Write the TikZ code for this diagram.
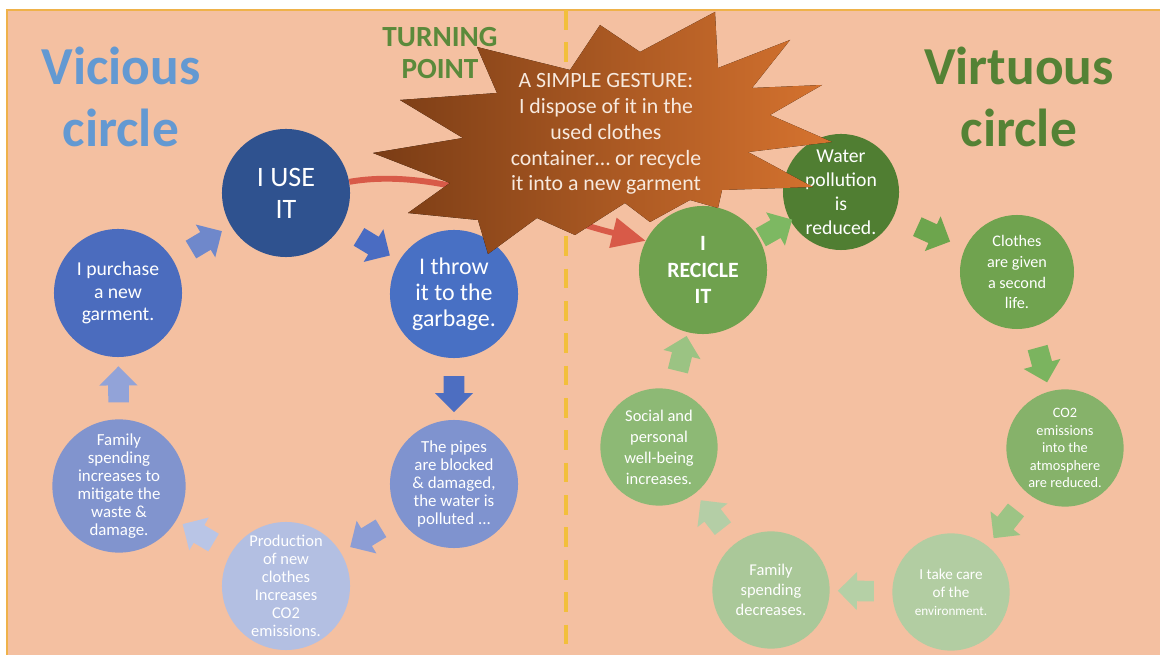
\documentclass[tikz,border=0pt]{standalone}
\usepackage{fontspec}
\setmainfont{Carlito}
\usepackage{tikz}
\usetikzlibrary{shapes}
\usetikzlibrary{shapes.arrows}
\usetikzlibrary{arrows.meta}
\usetikzlibrary{calc}
\definecolor{slide}{HTML}{F4C0A1}
\definecolor{edge}{HTML}{EFB24A}
\definecolor{divider}{HTML}{F2BF3B}
\definecolor{viceC}{HTML}{6399D2}
\definecolor{virtueC}{HTML}{548235}
\definecolor{turnC}{HTML}{5B8A3B}
\definecolor{redC}{HTML}{D85A48}
\definecolor{burstDark}{HTML}{7A3C15}
\definecolor{burstMid}{HTML}{C4642A}
\definecolor{burstLight}{HTML}{D6732F}
\definecolor{burstText}{HTML}{F7E9DE}
\definecolor{useC}{HTML}{2F528F}
\definecolor{buyC}{HTML}{4B6CBE}
\definecolor{throwC}{HTML}{4870C4}
\definecolor{pipesC}{HTML}{7F93CF}
\definecolor{prodC}{HTML}{B3BFE2}
\definecolor{famC}{HTML}{8194CE}
\definecolor{a1}{HTML}{6F88CB}
\definecolor{a2}{HTML}{4A6CC2}
\definecolor{a3}{HTML}{4D6EC1}
\definecolor{a4}{HTML}{8C9DD5}
\definecolor{a5}{HTML}{B9C5E6}
\definecolor{a6}{HTML}{92A3D8}
\definecolor{recC}{HTML}{6FA14E}
\definecolor{waterC}{HTML}{507E32}
\definecolor{clothesC}{HTML}{70A34F}
\definecolor{co2C}{HTML}{86B26A}
\definecolor{careC}{HTML}{B2CDA2}
\definecolor{famdC}{HTML}{AAC899}
\definecolor{socC}{HTML}{8DB975}
\definecolor{b1}{HTML}{7DB862}
\definecolor{b2}{HTML}{6DA54D}
\definecolor{b3}{HTML}{7BB45F}
\definecolor{b4}{HTML}{9DC485}
\definecolor{b5}{HTML}{B5D0A6}
\definecolor{b6}{HTML}{B4CEA6}
\definecolor{b7}{HTML}{9BC383}
\newcommand{\txtsize}[2]{\fontsize{#1pt}{#2pt}\selectfont}
\tikzset{
	vice node/.style={circle,text=white,align=center,inner sep=0pt,minimum size=3.2cm},
	virtue node/.style={circle,text=white,align=center,inner sep=0pt,minimum size=2.93cm},
	flow arrow/.style={single arrow,draw=none,inner xsep=0pt,inner ysep=0.25cm,minimum height=0.9cm,
		single arrow head extend=0.22cm},
	title/.style={align=center,font={\bfseries\txtsize{38}{44.7}}},
	burst text/.style={align=center,text=burstText,font={\txtsize{15.5}{18.4}}}
}

\begin{document}
\begin{tikzpicture}[x=0.025cm,y=-0.025cm,
	    turn arrow/.style={draw=redC,line width=4.2pt,-{Triangle[length=24pt,width=21pt]}}]
	\useasboundingbox (0,0) rectangle (1160,655);
	\fill[slide] (7,10) rectangle (1160,655);
	\draw[edge,line width=1.2pt] (7,655) -- (7,10) -- (1160,10);
	\draw[divider,line width=3pt,dash pattern=on 14pt off 9pt] (566,10) -- (566,655);
	\node[vice node,fill=useC,font={\txtsize{20}{22.7}}] (use) at (286,193) {I USE\\IT};
	\node[vice node,fill=buyC,font={\txtsize{14}{16}}] (buy) at (118,293) {I purchase\\a new\\garment.};
	\node[vice node,fill=throwC,font={\txtsize{17}{18.6}}] (throw) at (454,294) {I throw\\it to the\\garbage.};
	\node[vice node,fill=pipesC,font={\txtsize{12}{12.8}}] (pipes) at (454,484) {The pipes\\are blocked\\\& damaged,\\the water is\\polluted ...};
	\node[vice node,fill=prodC,font={\txtsize{11.7}{12.8}}] (prod) at (286,586) {Production\\of new\\clothes\\Increases\\CO2\\emissions.};
	\node[vice node,fill=famC,font={\txtsize{12}{12.8}}] (famup) at (119,486) {Family\\spending\\increases to\\mitigate the\\waste \&\\damage.};
	\node[vice node,fill=recC,font={\bfseries\txtsize{15.5}{19}}] (rec) at (703,270) {I\\RECICLE\\IT};
	\node[virtue node,fill=waterC,minimum size=2.9cm,font={\txtsize{14}{17}}] (water) at (841,192) {Water\\pollution\\is\\reduced.};
	\node[virtue node,fill=clothesC,minimum size=2.85cm,font={\txtsize{11.5}{14.9}}] (clothes) at (1017,272) {Clothes\\are given\\a second\\life.};
	\node[virtue node,fill=co2C,font={\txtsize{10.2}{12.4}}] (co2) at (1065,448) {CO2\\emissions\\into the\\atmosphere\\are reduced.};
	\node[virtue node,fill=careC,font={\txtsize{10.8}{12.8}}] (care) at (951,592) {I take care\\of the\\{\txtsize{9.4}{12.8}environment.}};
	\node[virtue node,fill=famdC,font={\txtsize{11.7}{14.2}}] (famdown) at (771,590) {Family\\spending\\decreases.};
	\node[virtue node,fill=socC,font={\txtsize{11.7}{14.9}}] (social) at (659,447) {Social and\\personal\\well-being\\increases.};
	\foreach \a/\b/\c in {buy/use/a1,use/throw/a2,throw/pipes/a3,pipes/prod/a4,prod/famup/a5,famup/buy/a6,
		rec/water/b1,water/clothes/b2,clothes/co2/b3,co2/care/b4,care/famdown/b5,famdown/social/b6,social/rec/b7}
		\path let \p1=($(\b)-(\a)$), \n1={atan2(\y1,\x1)} in
			node[flow arrow,fill=\c,rotate=\n1] (\a to \b) at ($(\a)!0.5!(\b)$) {};
	\draw[turn arrow] (use.10) .. controls (440,166) and (540,215) .. (rec.153);
	\fill[left color=burstDark,middle color=burstMid,right color=burstLight]
		(715,12) -- (718,68) -- (790,40) -- (752,88) -- (822,85) -- (770,115) -- (832,142)
		-- (748,152) -- (813,187) -- (722,190) -- (718,208) -- (690,200) -- (650,222)
		-- (625,203) -- (575,235) -- (537,218) -- (488,254) -- (478,220) -- (408,213)
		-- (450,183) -- (373,153) -- (463,138) -- (400,100) -- (497,93) -- (477,47)
		-- (570,70) -- (600,25) -- (640,52) -- cycle;
	\node[burst text] (gesture) at (606,134) {A SIMPLE GESTURE:\\I dispose of it in the\\used clothes\\container… or recycle\\it into a new garment};
	\node[align=center,text=turnC,font={\bfseries\txtsize{20.8}{23.4}}] (turning) at (440,53) {TURNING\\POINT};
	\node[title,text=viceC] (vicious) at (121,97) {Vicious\\circle};
	\node[title,text=virtueC] (virtuous) at (1019,97) {Virtuous\\circle};
\end{tikzpicture}
\end{document}
